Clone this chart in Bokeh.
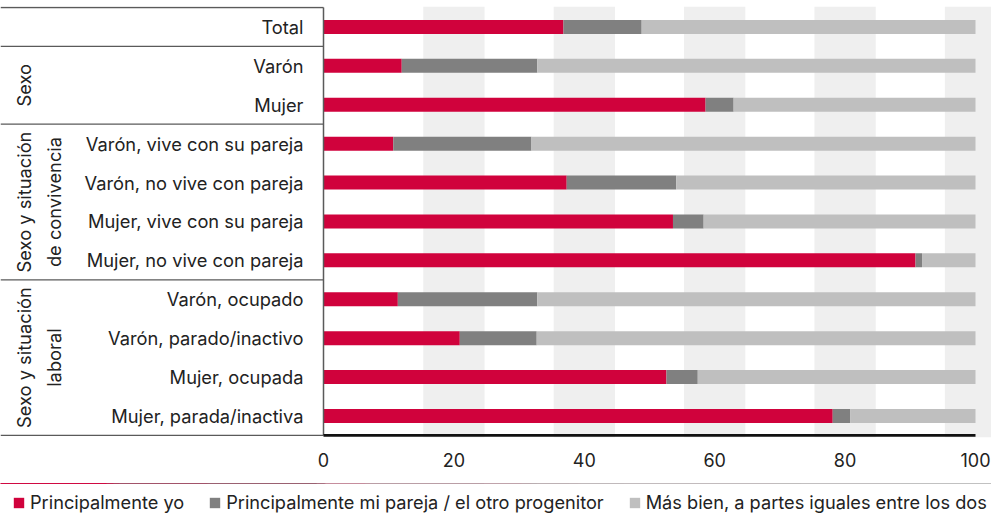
from math import pi
from bokeh.plotting import figure
from bokeh.layouts import column
from bokeh.models import Range1d, FixedTicker, BoxAnnotation, Legend, LegendItem, ColumnDataSource
from bokeh.core.properties import value
from bokeh.embed import file_html
from bokeh.resources import INLINE

# ---------------- data ----------------
categories = ["Total", "Varón", "Mujer",
              "Varón, vive con su pareja", "Varón, no vive con pareja",
              "Mujer, vive con su pareja", "Mujer, no vive con pareja",
              "Varón, ocupado", "Varón, parado/inactivo",
              "Mujer, ocupada", "Mujer, parada/inactiva"]
yo       = [36.8, 12.0, 58.6, 10.7, 37.3, 53.6, 90.8, 11.4, 20.9, 52.6, 78.1]
pareja   = [12.0, 20.8,  4.3, 21.2, 16.8,  4.7,  1.0, 21.4, 11.8,  4.8,  2.7]
iguales  = [51.2, 67.2, 37.1, 68.1, 45.9, 41.7,  8.2, 67.2, 67.3, 42.6, 19.2]
series_names = ["Principalmente yo",
                "Principalmente mi pareja / el otro progenitor",
                "Más bien, a partes iguales entre los dos"]
groups = [("Sexo", 1, 2),
          ("Sexo y situación\nde convivencia", 3, 6),
          ("Sexo y situación\nlaboral", 7, 10)]
x_ticks = [0, 20, 40, 60, 80, 100]

# ---------------- style ----------------
FONT = "Inter"
FS = "18.3px"
TXT = "#222222"
COLORS = ["#D0023C", "#808080", "#BFBFBF"]
BAND = "#EFEFEF"
RULE = "#5a5a5a"

W = 991
n = len(categories)
ys = [n - i - 0.5 for i in range(n)]

px_per_unit = 6.52
zero_px = 323.0
x_start = -zero_px / px_per_unit
x_end = x_start + W / px_per_unit

pitch = 38.9
top_border = 6
frame_h = 431
bottom_border = 46
legend_h = 514 - (top_border + frame_h + bottom_border)
y_end = n + 1.0 / pitch
y_start = y_end - frame_h / pitch

src = ColumnDataSource(dict(cat=categories, y=ys, yo=yo, pareja=pareja, iguales=iguales))

p = figure(frame_width=W, frame_height=frame_h,
           x_range=Range1d(x_start, x_end), y_range=Range1d(y_start, y_end),
           output_backend="svg", toolbar_location=None,
           min_border_left=0, min_border_right=0, min_border_top=top_border,
           min_border_bottom=bottom_border,
           background_fill_color="white", border_fill_color="white")
p.outline_line_color = None
p.xgrid.visible = False
p.ygrid.visible = False
p.yaxis.visible = False

# background bands centered on ticks
for t in x_ticks[1:]:
    p.add_layout(BoxAnnotation(left=t - 4.7, right=t + 4.7, fill_color=BAND, fill_alpha=1.0,
                               line_color=None, level="underlay"))

p.hbar_stack(["yo", "pareja", "iguales"], y="y", height=0.36, source=src,
             color=COLORS, line_color=None)

# left table rules
bounds = [n, n - 1, n - 3, n - 7, 0]
p.segment(x0=x_start, x1=0, y0=bounds, y1=bounds, line_color=RULE, line_width=1.3)
p.segment(x0=0, x1=0, y0=0, y1=n, line_color=RULE, line_width=1.5)
p.segment(x0=0, x1=100, y0=0, y1=0, line_color="#111111", line_width=2.6)

# category labels
p.text(x=-3.07, y="y", text="cat", source=src, text_align="right", text_baseline="middle",
       text_font=value(FONT), text_font_size=FS, text_color=TXT)

# group labels (rotated)
gx = [(12 - zero_px) / px_per_unit] * len(groups)
gy = [n - (a + b + 1) / 2 for _, a, b in groups]
p.text(x=gx, y=gy, text=[g[0] for g in groups], angle=pi / 2, text_align="center",
       text_baseline="top", text_font=value(FONT), text_font_size=FS, text_color=TXT,
       text_line_height=1.4)

# x axis
p.xaxis.ticker = FixedTicker(ticks=x_ticks)
p.xaxis.axis_line_color = None
p.xaxis.major_tick_line_color = None
p.xaxis.minor_tick_line_color = None
p.xaxis.major_label_standoff = 9
p.xaxis.major_label_text_font = FONT
p.xaxis.major_label_text_font_size = "18px"
p.xaxis.major_label_text_color = TXT

# ---------------- legend strip ----------------
# same stacked series, kept outside this strip's visible y-range: only the legend shows
lg = figure(frame_width=W, frame_height=legend_h, output_backend="svg", toolbar_location=None,
            x_range=Range1d(0, 100), y_range=Range1d(-3, -2),
            min_border_left=0, min_border_right=0, min_border_top=0, min_border_bottom=0,
            background_fill_color="white", border_fill_color="white")
lg.outline_line_color = None
lg.grid.visible = False
lg.axis.visible = False
legend_renderers = lg.hbar_stack(["yo", "pareja", "iguales"], y="y", height=0.36, source=src,
                                 color=COLORS, line_color=None)
legend = Legend(items=[LegendItem(label=nm, renderers=[r], index=0)
                       for nm, r in zip(series_names, legend_renderers)],
                orientation="horizontal", location=(12, legend_h - 10 - 20), padding=0, margin=0,
                spacing=24, label_standoff=5, glyph_width=13, glyph_height=13, label_height=20,
                label_text_font=FONT, label_text_font_size="18.2px", label_text_color=TXT,
                border_line_color=None, background_fill_alpha=0)
lg.add_layout(legend, "center")

layout = column(p, lg, spacing=0)
open("out.html", "w").write(file_html(layout, INLINE))
